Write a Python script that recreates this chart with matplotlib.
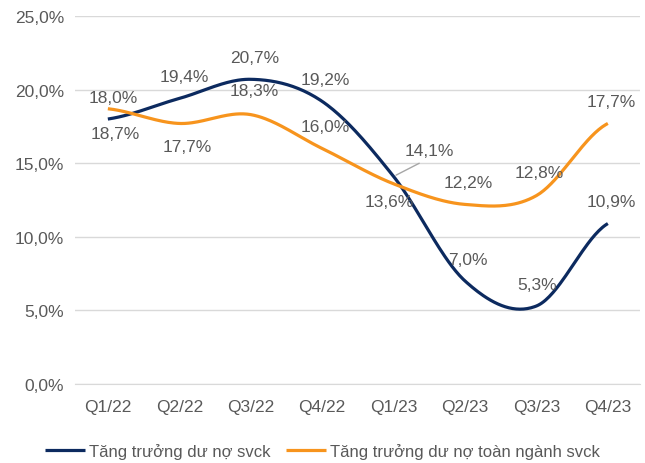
import numpy as np
import matplotlib.pyplot as plt

plt.rcParams['font.family'] = ['Liberation Sans', 'DejaVu Sans']

quarters = ['Q1/22', 'Q2/22', 'Q3/22', 'Q4/22', 'Q1/23', 'Q2/23', 'Q3/23', 'Q4/23']
svck = [18.0, 19.4, 20.7, 19.2, 14.1, 7.0, 5.3, 10.9]
toan_nganh = [18.7, 17.7, 18.3, 16.0, 13.6, 12.2, 12.8, 17.7]
y_ticks = [0, 5, 10, 15, 20, 25]

navy = '#0c2a5f'
orange = '#f7941d'
grey_text = '#595959'

# label offsets in pixels (dx, dy) relative to the data point
svck_off = [(5, -22), (5, -22), (4, -22), (3, -22), (36, -26), (3, -21), (1, -21), (3, -22)]
toan_off = [(7, 25), (8, 23), (4, -24), (3, -22), (-4, 18), (3, -22), (3, -23), (3, -22)]


def smooth(x, y, n=40):
    # Catmull-Rom style smoothing like Excel's smoothed line
    x = np.asarray(x, float)
    y = np.asarray(y, float)
    px = np.concatenate([[2 * x[0] - x[1]], x, [2 * x[-1] - x[-2]]])
    py = np.concatenate([[y[0]], y, [y[-1]]])
    xs, ys = [], []
    t = np.linspace(0, 1, n)
    for i in range(1, len(px) - 2):
        p0, p1, p2, p3 = px[i - 1], px[i], px[i + 1], px[i + 2]
        q0, q1, q2, q3 = py[i - 1], py[i], py[i + 1], py[i + 2]
        c1x, c1y = p1 + (p2 - p0) / 6, q1 + (q2 - q0) / 6
        c2x, c2y = p2 - (p3 - p1) / 6, q2 - (q3 - q1) / 6
        bx = (1 - t) ** 3 * p1 + 3 * (1 - t) ** 2 * t * c1x + 3 * (1 - t) * t ** 2 * c2x + t ** 3 * p2
        by = (1 - t) ** 3 * q1 + 3 * (1 - t) ** 2 * t * c1y + 3 * (1 - t) * t ** 2 * c2y + t ** 3 * q2
        xs.append(bx)
        ys.append(by)
    return np.concatenate(xs), np.concatenate(ys)


fig = plt.figure(figsize=(6.45, 4.64), dpi=100)
ax = fig.add_axes([75 / 645, 79 / 464, 565 / 645, 368 / 464])

x = np.arange(len(quarters))
sx, sy = smooth(x, svck)
ox, oy = smooth(x, toan_nganh)
ax.plot(sx, sy, color=navy, lw=2.3, solid_capstyle='butt', label='Tăng trưởng dư nợ svck', zorder=3)
ax.plot(ox, oy, color=orange, lw=2.3, solid_capstyle='butt', label='Tăng trưởng dư nợ toàn ngành svck', zorder=3)

px2pt = 72 / 100
fs = 12.5
for i, v in enumerate(svck):
    dx, dy = svck_off[i]
    kw = {}
    if i == 4:
        kw['arrowprops'] = dict(arrowstyle='-', color='#a6a6a6', lw=1, shrinkA=4, shrinkB=2,
                                relpos=(0.5, 0.0))
    ax.annotate(f'{v:.1f}%'.replace('.', ','), (i, v), xytext=(dx * px2pt, -dy * px2pt),
                textcoords='offset points', ha='center', va='center', fontsize=fs,
                color=grey_text, zorder=4, **kw)
for i, v in enumerate(toan_nganh):
    dx, dy = toan_off[i]
    ax.annotate(f'{v:.1f}%'.replace('.', ','), (i, v), xytext=(dx * px2pt, -dy * px2pt),
                textcoords='offset points', ha='center', va='center', fontsize=fs,
                color=grey_text, zorder=4)

ax.set_xlim(-0.46, 7.45)
ax.set_ylim(0, 25)
ax.set_yticks(y_ticks)
ax.set_yticklabels([f'{t:.1f}%'.replace('.', ',') for t in y_ticks])
ax.set_xticks(x)
ax.set_xticklabels(quarters)
ax.tick_params(length=0, labelsize=fs, labelcolor=grey_text)
ax.tick_params(axis='x', pad=11)
ax.tick_params(axis='y', pad=8)
ax.grid(axis='y', color='#d9d9d9', lw=1)
ax.set_axisbelow(True)
for s in ['top', 'right', 'left']:
    ax.spines[s].set_visible(False)
ax.spines['bottom'].set_color('#d9d9d9')

fig.legend(loc='center', bbox_to_anchor=(0.5, 12 / 464), ncol=2, frameon=False,
           fontsize=12, labelcolor=grey_text, handlelength=2.4, handletextpad=0.25,
           columnspacing=0.9)

fig.savefig('out.png', dpi=100)
